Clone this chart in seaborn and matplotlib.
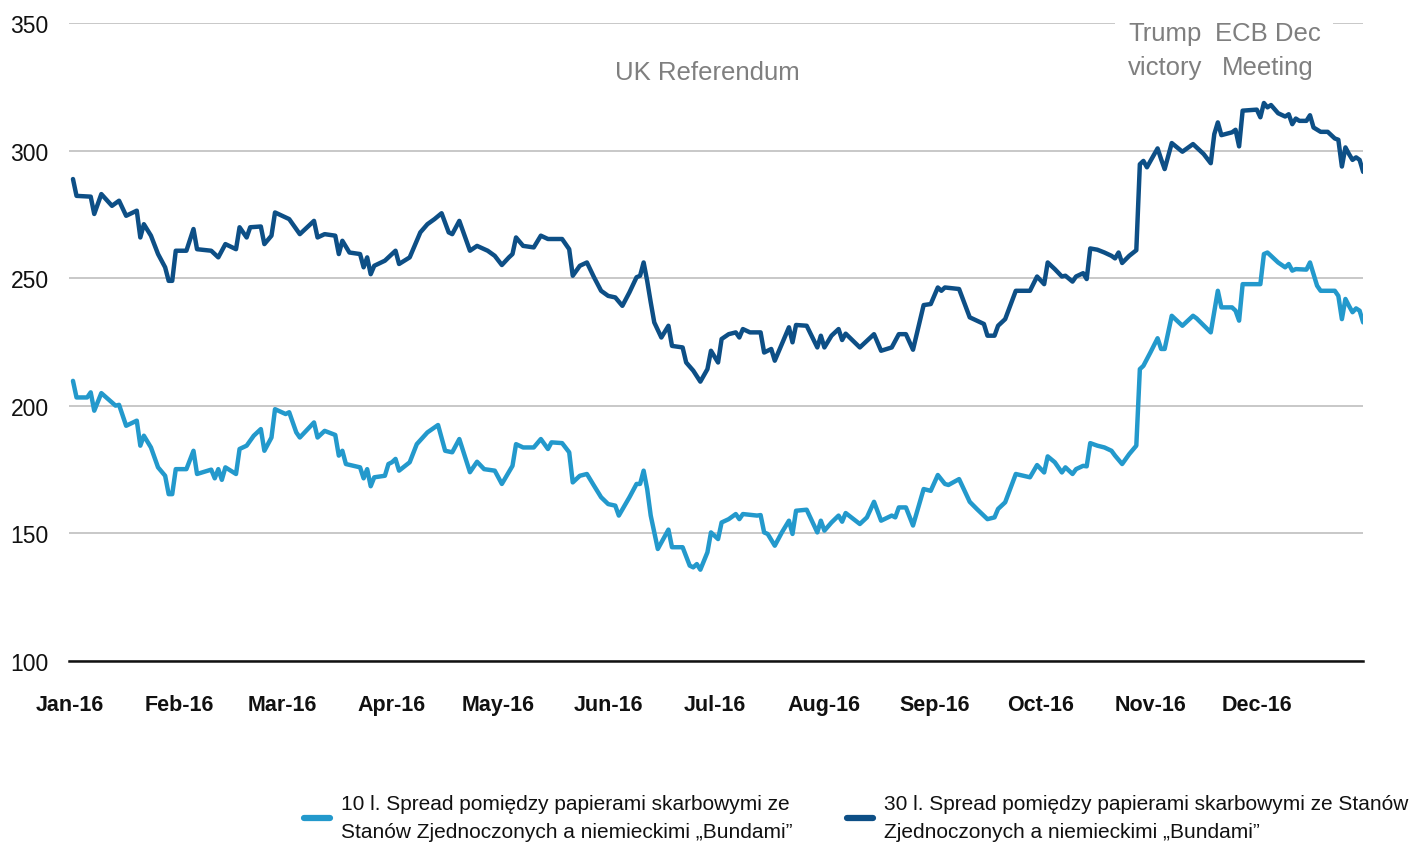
import numpy as np
import pandas as pd
import matplotlib
matplotlib.use("Agg")
import matplotlib.pyplot as plt
import matplotlib.dates as mdates
from matplotlib.lines import Line2D
import seaborn as sns

# ---- data (day offset from 2016-01-01, spread in bp) ----
days_30 = [1, 2, 6, 7, 9, 12, 14, 16, 19, 20, 21, 23, 25, 27, 28, 29, 30, 33, 35, 36, 40, 42, 43, 44, 47, 48, 50, 51,
           54, 55, 57, 58, 62, 65, 69, 70, 72, 75, 76, 77, 79, 82, 83, 84, 85, 86, 89, 91, 92, 93, 96, 99, 101, 103,
           105, 107, 108, 110, 113, 115, 118, 120, 122, 124, 125, 126, 128, 131, 133, 135, 139, 141, 142, 144, 146,
           148, 150, 152, 154, 156, 158, 160, 161, 162, 163, 164, 165, 167, 169, 170, 173, 174, 176, 178, 180, 181,
           183, 184, 186, 188, 189, 190, 192, 195, 196, 198, 199, 201, 203, 204, 205, 208, 211, 212, 213, 215, 217,
           218, 219, 223, 227, 229, 232, 234, 236, 238, 241, 243, 245, 246, 247, 251, 254, 256, 258, 259, 261, 262,
           264, 267, 271, 273, 275, 276, 278, 280, 281, 283, 284, 286, 287, 288, 290, 292, 294, 295, 296, 297, 299,
           301, 302, 303, 304, 305, 307, 308, 309, 311, 314, 317, 320, 322, 323, 324, 325, 328, 329, 330, 331, 335,
           336, 337, 338, 339, 341, 343, 344, 345, 346, 347, 349, 350, 351, 353, 355, 357, 358, 359, 360, 361, 362,
           363, 364, 365]
vals_30 = [288.9, 282.3, 282, 275.2, 283, 278.4, 280.4, 274.5, 276.5, 266, 271.2, 266.7, 259.5, 254.3, 249, 249, 260.8,
           260.8, 269.3, 261.4, 260.8, 258.2, 260.8, 263.4, 261.4, 270, 266, 270, 270.3, 263.4, 266.7, 275.8, 273.2,
           267.3, 272.5, 266, 267.3, 266.7, 259.5, 264.7, 260.1, 259.5, 254.3, 258.2, 251.6, 254.9, 256.9, 259.5,
           260.8, 255.6, 258.2, 268, 271.2, 273.2, 275.5, 268, 267.3, 272.5, 260.8, 262.7, 260.8, 258.8, 255.2, 258.2,
           259.5, 266, 262.7, 262.1, 266.7, 265.4, 265.4, 261.4, 251, 254.9, 256.2, 250.4, 245.1, 243.1, 242.5, 239.2,
           244.5, 250.4, 251, 256.2, 249, 240.6, 232.7, 226.8, 231.4, 223.5, 222.9, 217, 213.8, 209.5, 214.4, 221.6,
           217, 226.2, 228.1, 228.8, 226.8, 230.1, 228.8, 228.8, 220.9, 222.3, 217.7, 224.2, 230.8, 224.9, 231.7,
           231.4, 222.9, 227.5, 222.9, 227.5, 230.1, 225.8, 228.3, 222.9, 228.1, 221.6, 222.9, 228.1, 228.1, 222,
           239.5, 239.9, 246.4, 245.1, 246.4, 245.8, 234.7, 233.4, 232.1, 227.5, 227.5, 231.4, 234, 245.1, 245.1,
           250.7, 247.7, 256.2, 253.6, 250.7, 251, 248.7, 250.7, 252, 249.7, 261.7, 261.2, 260.1, 258.8, 257.8, 260.1,
           256, 258.8, 261, 294.7, 296, 293.5, 296, 300.9, 296.7, 292.8, 303, 299.6, 302.6, 298.7, 295.1, 306.5,
           311.1, 306.1, 307.2, 308.2, 301.7, 315.7, 316.1, 313.1, 318.7, 317, 317.9, 314.7, 313.4, 314.3, 310.4,
           312.6, 311.7, 311.7, 313.9, 309.1, 307.4, 307.4, 304.8, 304.3, 293.8, 301.3, 298.7, 296.4, 297.4, 296.4,
           291.7]

days_10 = [1, 2, 5, 6, 7, 9, 13, 14, 16, 19, 20, 21, 23, 25, 27, 28, 29, 30, 33, 35, 36, 40, 41, 42, 43, 44, 47, 48,
           50, 52, 54, 55, 57, 58, 61, 62, 64, 65, 69, 70, 72, 75, 76, 77, 78, 82, 83, 84, 85, 86, 89, 90, 91, 92, 93,
           96, 98, 101, 104, 106, 108, 110, 113, 115, 117, 120, 122, 125, 126, 128, 131, 133, 135, 136, 139, 141, 142,
           144, 146, 148, 150, 152, 154, 155, 158, 160, 161, 162, 163, 164, 166, 169, 170, 173, 175, 176, 177, 178,
           180, 181, 183, 184, 186, 188, 189, 190, 194, 195, 196, 197, 199, 201, 203, 204, 205, 208, 211, 212, 213,
           215, 217, 218, 219, 223, 225, 227, 229, 232, 233, 234, 236, 238, 241, 243, 245, 247, 248, 251, 254, 256,
           259, 261, 262, 264, 267, 271, 273, 275, 276, 278, 280, 281, 283, 284, 286, 287, 288, 290, 292, 294, 295,
           297, 299, 301, 302, 303, 305, 307, 308, 309, 311, 314, 317, 318, 322, 324, 325, 328, 329, 330, 331, 336,
           337, 338, 341, 343, 344, 345, 346, 349, 350, 352, 353, 357, 358, 359, 360, 361, 362, 363, 364, 365]
vals_10 = [209.8, 203.3, 203.3, 205.3, 198.1, 205, 200.1, 200.4, 192.2, 194.2, 184.4, 188.3, 183.7, 175.9, 172.6,
           165.4, 165.4, 175.2, 175.2, 182.4, 173.3, 175, 171.6, 175.2, 171, 175.9, 173.3, 183.1, 184.4, 188.3, 190.9,
           182.4, 187.6, 198.7, 196.8, 197.5, 189.6, 187.6, 193.5, 187.6, 190.2, 188.6, 180.5, 182.4, 177.2, 175.9,
           171.6, 175.2, 168.5, 172, 172.6, 177.2, 177.9, 179.2, 174.6, 177.9, 185, 189.6, 192.5, 182.4, 181.8, 187,
           174, 178.1, 175.2, 174.6, 169.4, 176.5, 185, 183.7, 183.7, 187, 183.1, 185.7, 185.4, 181.8, 170, 172.6,
           173.3, 168.7, 164.2, 161.5, 160.9, 157, 164.2, 169.4, 169.4, 174.6, 167.4, 157, 143.9, 151.5, 144.6, 144.6,
           137.4, 136.7, 138, 135.8, 142.6, 150.4, 147.8, 154.3, 155.6, 157.6, 155.6, 157.6, 157, 157.2, 150.4, 149.8,
           145.2, 150.4, 155, 149.8, 158.9, 159.3, 150.4, 155, 151.1, 154.3, 157, 154.6, 158, 153.7, 156.3, 162.4, 155,
           157, 156.3, 160.2, 160.2, 153.1, 167.4, 166.7, 172.9, 169.4, 169, 171.3, 162.4, 159.6, 155.6, 156.3, 159.6,
           162.2, 173.3, 172, 176.8, 173.9, 180.2, 177.9, 173.9, 175.9, 173.3, 175.2, 176.5, 176.3, 185.4, 184.4,
           183.7, 182.4, 180.5, 177.2, 181.1, 184.4, 214.4, 215.7, 221, 226.5, 222.3, 222.3, 235.3, 231.4, 235.3,
           234.3, 228.8, 245.1, 238.6, 238.6, 237.3, 233.4, 247.7, 247.7, 259.5, 260.1, 256.2, 254.3, 255.6, 253,
           253.6, 253.4, 256.2, 247.1, 245.1, 245.1, 243.1, 234, 241.9, 239.2, 236.7, 238.2, 237.3, 232.7]

label_10 = "10 l. Spread pomiędzy papierami skarbowymi ze\nStanów Zjednoczonych a niemieckimi „Bundami”"
label_30 = "30 l. Spread pomiędzy papierami skarbowymi ze Stanów\nZjednoczonych a niemieckimi „Bundami”"
y_ticks = [100, 150, 200, 250, 300, 350]
annotations = [("UK Referendum", "2016-06-29", 331), ("Trump\nvictory", "2016-11-05", 339.5),
               ("ECB Dec\nMeeting", "2016-12-04", 339.5)]

c10 = "#2399cc"
c30 = "#0d4f86"

start = pd.Timestamp("2016-01-01")
df = pd.concat([
    pd.DataFrame({"date": start + pd.to_timedelta(days_10, "D"), "value": vals_10, "series": label_10}),
    pd.DataFrame({"date": start + pd.to_timedelta(days_30, "D"), "value": vals_30, "series": label_30}),
], ignore_index=True)

sns.set_theme(style="white")
FONT = ["Liberation Sans Narrow", "Liberation Sans", "DejaVu Sans"]
plt.rcParams["font.family"] = FONT

fig = plt.figure(figsize=(14.17, 8.62), dpi=100)
ax = fig.add_axes([0.049, 0.232, 0.913, 0.740])

sns.lineplot(data=df, x="date", y="value", hue="series", palette={label_10: c10, label_30: c30},
             linewidth=3.2, ax=ax, legend=False, sort=True, estimator=None)

ax.set_ylim(100, 350)
ax.set_xlim(start, pd.Timestamp("2016-12-31"))
ax.set_yticks(y_ticks)
ax.yaxis.grid(True, color="#c4c4c4", linewidth=1.3)
ax.xaxis.grid(False)
ax.set_axisbelow(True)
for s in ["top", "right", "left"]:
    ax.spines[s].set_visible(False)
ax.spines["bottom"].set_color("#111111")
ax.spines["bottom"].set_linewidth(1.8)
ax.set_xlabel("")
ax.set_ylabel("")

ax.xaxis.set_major_locator(mdates.MonthLocator())
ax.xaxis.set_major_formatter(mdates.DateFormatter("%b-%y"))
ax.tick_params(axis="x", length=0, pad=24, labelsize=15.5, colors="#111111")
ax.tick_params(axis="y", length=0, pad=15, labelsize=16.5, colors="#111111")
for t in ax.get_xticklabels():
    t.set_fontweight("bold")

for i, (txt, d, yv) in enumerate(annotations):
    kw = dict(ha="center", va="center", fontsize=18.5, color="#7f7f7f", linespacing=1.55, zorder=5)
    if i > 0:
        kw["bbox"] = dict(boxstyle="square,pad=0.5", facecolor="white", edgecolor="none")
    ax.text(pd.Timestamp(d), yv, txt, **kw)

handles = [Line2D([0], [0], color=c10, linewidth=4.5), Line2D([0], [0], color=c30, linewidth=4.5)]
leg = fig.legend(handles, [label_10, label_30], loc="center left", bbox_to_anchor=(0.201, 0.05), ncol=2,
                 frameon=False, fontsize=15, handlelength=1.25, handletextpad=0.55, columnspacing=2.6,
                 labelcolor="#111111")
for t in leg.get_texts():
    t.set_linespacing(1.6)

fig.savefig("out.png", dpi=100, facecolor="white")
